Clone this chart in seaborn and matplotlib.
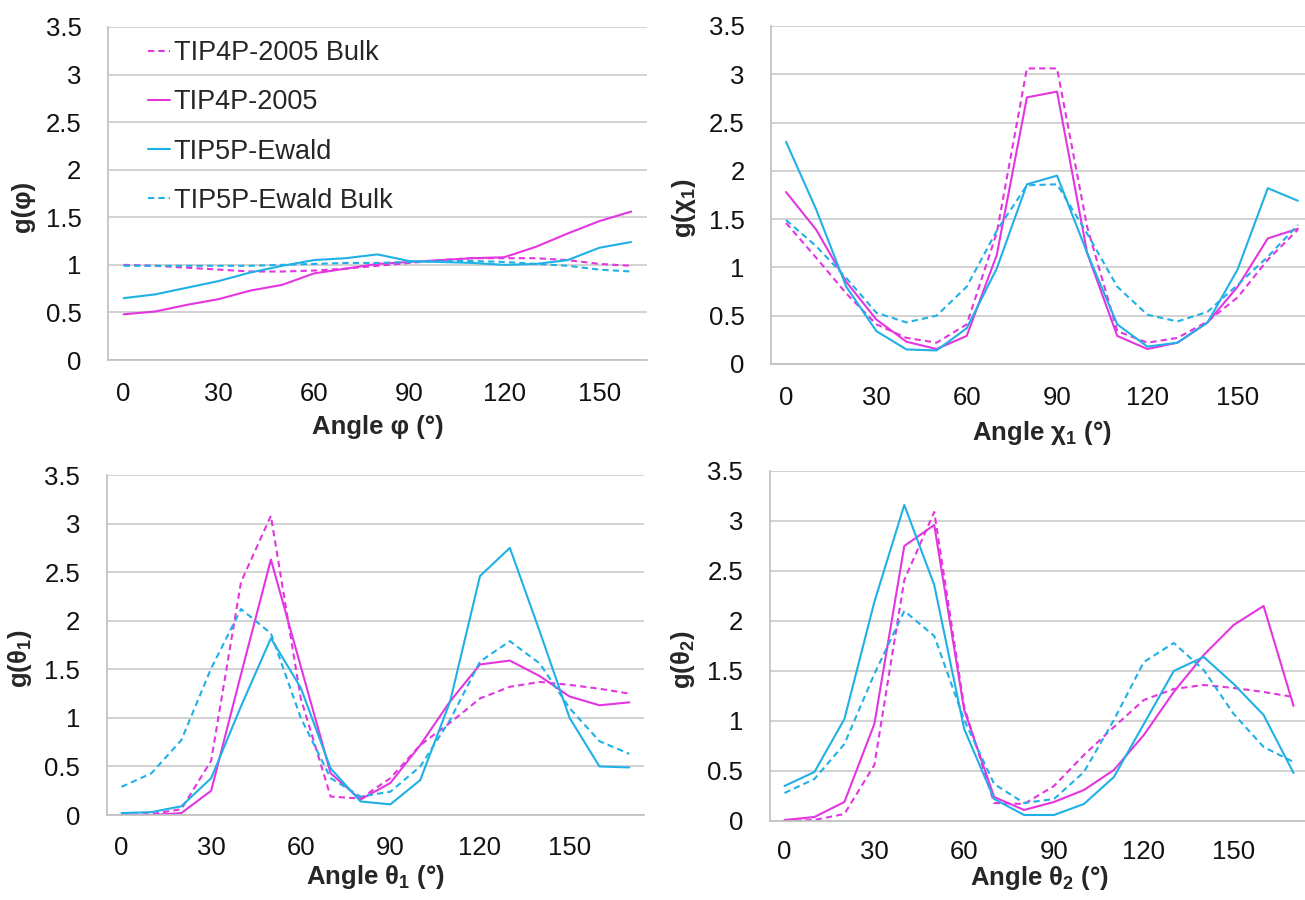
import numpy as np
import pandas as pd
import seaborn as sns
import matplotlib.pyplot as plt

# model names, in legend order
models = ['TIP4P-2005 Bulk', 'TIP4P-2005', 'TIP5P-Ewald', 'TIP5P-Ewald Bulk']

# angle bins (degrees)
angle_phi = list(range(0, 161, 10))
angle_full = list(range(0, 171, 10))

# g(phi)
phi_4b = [1.00, 0.99, 0.97, 0.95, 0.93, 0.93, 0.94, 0.96, 0.99, 1.02, 1.05, 1.07, 1.07, 1.07, 1.05, 1.01, 0.99]
phi_4 = [0.48, 0.51, 0.58, 0.64, 0.73, 0.79, 0.91, 0.96, 1.01, 1.03, 1.05, 1.07, 1.08, 1.19, 1.33, 1.46, 1.56]
phi_5 = [0.65, 0.69, 0.76, 0.83, 0.92, 0.99, 1.05, 1.07, 1.11, 1.04, 1.03, 1.02, 1.00, 1.01, 1.05, 1.18, 1.24]
phi_5b = [0.99, 0.99, 0.99, 0.99, 0.99, 1.00, 1.01, 1.02, 1.02, 1.03, 1.04, 1.04, 1.03, 1.01, 0.99, 0.95, 0.93]

# g(chi1)
chi_4b = [1.46, 1.10, 0.73, 0.41, 0.27, 0.22, 0.41, 1.36, 3.06, 3.06, 1.42, 0.34, 0.22, 0.27, 0.44, 0.69, 1.08, 1.39]
chi_4 = [1.78, 1.39, 0.85, 0.46, 0.23, 0.155, 0.29, 1.13, 2.76, 2.82, 1.15, 0.29, 0.155, 0.22, 0.43, 0.80, 1.30, 1.40]
chi_5 = [2.30, 1.60, 0.80, 0.34, 0.15, 0.14, 0.37, 0.99, 1.86, 1.95, 1.15, 0.41, 0.18, 0.22, 0.43, 0.98, 1.82, 1.69]
chi_5b = [1.49, 1.22, 0.89, 0.53, 0.43, 0.50, 0.80, 1.38, 1.85, 1.86, 1.35, 0.80, 0.51, 0.44, 0.54, 0.82, 1.11, 1.44]

# g(theta1)
th1_4b = [0.00, 0.01, 0.06, 0.56, 2.40, 3.08, 1.20, 0.19, 0.17, 0.38, 0.72, 0.95, 1.20, 1.32, 1.37, 1.34, 1.30, 1.25]
th1_4 = [0.00, 0.00, 0.02, 0.25, 1.45, 2.63, 1.53, 0.43, 0.16, 0.33, 0.72, 1.17, 1.55, 1.59, 1.43, 1.22, 1.13, 1.16]
th1_5 = [0.02, 0.03, 0.09, 0.38, 1.12, 1.82, 1.31, 0.48, 0.14, 0.11, 0.36, 1.17, 2.46, 2.75, 1.89, 1.00, 0.50, 0.49]
th1_5b = [0.29, 0.43, 0.77, 1.51, 2.12, 1.87, 1.00, 0.38, 0.19, 0.24, 0.50, 0.98, 1.58, 1.79, 1.56, 1.10, 0.76, 0.63]

# g(theta2)
th2_4b = [0.00, 0.01, 0.07, 0.56, 2.41, 3.09, 1.14, 0.18, 0.17, 0.35, 0.66, 0.94, 1.21, 1.32, 1.36, 1.33, 1.29, 1.24]
th2_4 = [0.01, 0.04, 0.19, 0.97, 2.75, 2.96, 1.11, 0.24, 0.11, 0.19, 0.31, 0.51, 0.86, 1.29, 1.66, 1.96, 2.15, 1.15]
th2_5 = [0.35, 0.49, 1.02, 2.19, 3.16, 2.36, 0.92, 0.22, 0.06, 0.06, 0.17, 0.44, 0.97, 1.50, 1.64, 1.37, 1.06, 0.48]
th2_5b = [0.28, 0.42, 0.77, 1.47, 2.10, 1.85, 1.01, 0.37, 0.18, 0.22, 0.49, 1.01, 1.59, 1.78, 1.51, 1.07, 0.74, 0.59]

sns.set_style("white")
plt.rcParams['font.family'] = ['Liberation Sans', 'DejaVu Sans']
plt.rcParams['mathtext.fontset'] = 'custom'
plt.rcParams['mathtext.rm'] = 'Liberation Sans'
plt.rcParams['mathtext.bf'] = 'Liberation Sans:bold'

magenta = '#E336E0'
cyan = '#1FB1E6'
palette = {models[0]: magenta, models[1]: magenta, models[2]: cyan, models[3]: cyan}
dashes = {models[0]: (3, 2), models[1]: '', models[2]: '', models[3]: (3, 2)}

panels = [
    (angle_phi, [phi_4b, phi_4, phi_5, phi_5b], 'g(φ)', 'Angle φ (°)'),
    (angle_full, [chi_4b, chi_4, chi_5, chi_5b], r'g(χ$_\mathbf{1}$)', r'Angle χ$_\mathbf{1}$ (°)'),
    (angle_full, [th1_4b, th1_4, th1_5, th1_5b], r'g(θ$_\mathbf{1}$)', r'Angle θ$_\mathbf{1}$ (°)'),
    (angle_full, [th2_4b, th2_4, th2_5, th2_5b], r'g(θ$_\mathbf{2}$)', r'Angle θ$_\mathbf{2}$ (°)'),
]
positions = [
    [0.0826, 0.600, 0.4132, 0.370],
    [0.5908, 0.5956, 0.4153, 0.3756],
    [0.0817, 0.0944, 0.4120, 0.3778],
    [0.5897, 0.0878, 0.4130, 0.3889],
]
xlabel_pads = [6, 6, 2, 0]
xtick_pads = [16, 16, 15, 14]

fig = plt.figure(figsize=(13.05, 9.0), dpi=100)
axes = []
for i, ((angles, series, ylab, xlab), pos) in enumerate(zip(panels, positions)):
    ax = fig.add_axes(pos)
    df = pd.DataFrame({
        'angle': angles * 4,
        'g': sum(series, []),
        'model': sum([[m] * len(angles) for m in models], []),
    })
    sns.lineplot(data=df, x='angle', y='g', hue='model', style='model',
                 hue_order=models, style_order=models, palette=palette,
                 dashes=dashes, linewidth=1.5, errorbar=None, legend=False, ax=ax)
    ax.set_xlim(-5, angles[-1] + 5)
    ax.set_ylim(0, 3.5)
    ax.set_yticks(np.arange(0, 3.51, 0.5))
    ax.set_yticklabels(['0', '0.5', '1', '1.5', '2', '2.5', '3', '3.5'])
    ax.set_xticks(range(0, 151, 30))
    ax.set_xticks(np.arange(-5, angles[-1] + 6, 10), minor=True)
    ax.yaxis.grid(True, color='#CFCFCF', linewidth=1.3)
    ax.set_axisbelow(True)
    for s in ['top', 'right']:
        ax.spines[s].set_visible(False)
    for s in ['left', 'bottom']:
        ax.spines[s].set_color('#BFBFBF')
        ax.spines[s].set_linewidth(1.2)
    ax.tick_params(axis='x', which='major', length=0, pad=xtick_pads[i], labelsize=18.5, labelcolor='#111111')
    ax.tick_params(axis='x', which='minor', length=6, width=1.2, color='#BFBFBF', direction='out')
    ax.tick_params(axis='y', which='major', length=6, width=1.2, color='#BFBFBF', direction='out',
                   pad=13, labelsize=18.5, labelcolor='#111111')
    ax.set_xlabel(xlab, fontsize=18.5, fontweight='bold', labelpad=xlabel_pads[i])
    ax.set_ylabel(ylab, fontsize=18.5, fontweight='bold')
    ax.yaxis.set_label_coords(-0.135, 0.46)
    axes.append(ax)

leg = axes[0].legend(axes[0].lines[:4], models, loc='upper left',
                     bbox_to_anchor=(148 / 1305, 1 - 40 / 900), bbox_transform=fig.transFigure,
                     frameon=False, fontsize=19.5, handlelength=0.8, handletextpad=0.15,
                     labelspacing=0.86, borderpad=0, borderaxespad=0)

fig.savefig('out.png', dpi=100)
